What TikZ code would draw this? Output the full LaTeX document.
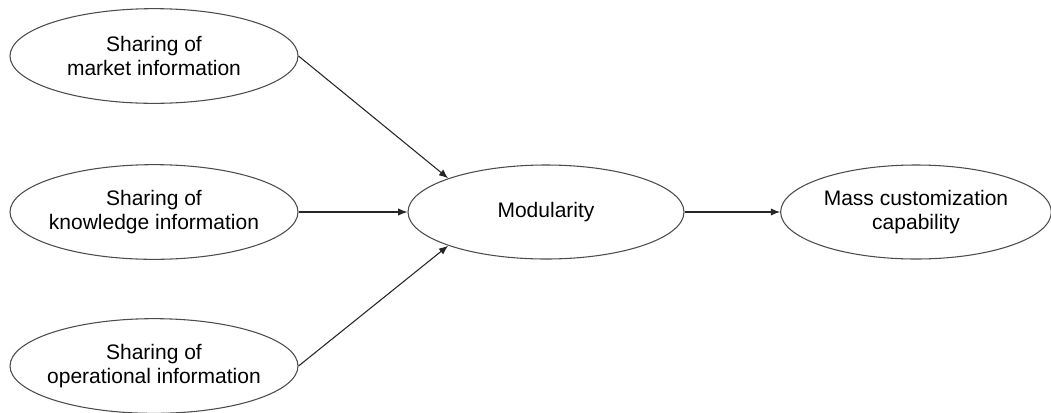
\documentclass[tikz,border=0pt]{standalone}
\usepackage{fontspec}
\setmainfont{Liberation Sans}
\usetikzlibrary{shapes.geometric,arrows.meta}

\tikzset{
  construct/.style={ellipse, draw=black!70, line width=0.8pt, inner xsep=-6pt, inner ysep=0pt,
    minimum width=216pt, minimum height=71pt, align=center,
    font=\fontsize{15.75}{18}\selectfont},
  path/.style={draw=black!85, line width=0.8pt, -{Latex[length=7pt,width=5.5pt]}}
}

\begin{document}
\begin{tikzpicture}[x=0.75pt,y=0.75pt,yscale=-1,xscale=1]
            \useasboundingbox (0,0) rectangle (1051,412);

            % Antecedents
            \node[construct] (market) at (154,56) {Sharing of\\market information};
            \node[construct] (knowledge) at (154,212) {Sharing of\\knowledge information};
            \node[construct] (operational) at (154,366) {Sharing of\\operational information};

            % Mediator and outcome
            \node[construct, minimum width=207pt, minimum height=70.5pt] (modularity) at (546,212) {Modularity};
            \node[construct, minimum width=203pt, minimum height=70.5pt] (capability) at (916,212) {Mass customization\\capability};

            % Paths
            \draw[path] (market.east) -- (modularity.161);
            \draw[path] (knowledge.east) -- (modularity.west);
            \draw[path] (operational.east) -- (modularity.199);
            \draw[path] (modularity.east) -- (capability.west);

\end{tikzpicture}
\end{document}
